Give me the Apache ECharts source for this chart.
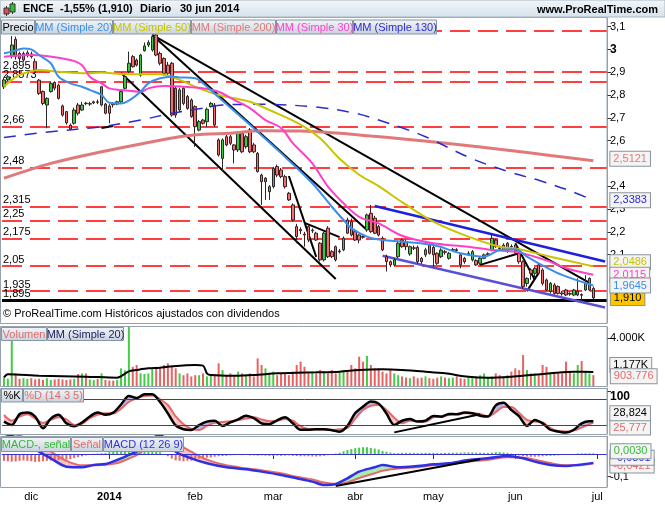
<!DOCTYPE html>
<html><head><meta charset="utf-8"><title>ENCE</title>
<script src="https://cdn.jsdelivr.net/npm/echarts@6.0.0/dist/echarts.min.js"></script>
<style>html,body{margin:0;padding:0;background:#fff;}#chart{width:665px;height:510px;}</style>
</head><body><div id="chart"></div><script>
// ---------------- DATA ----------------
const holidays = ['2013-12-25','2013-12-26','2014-01-01','2014-04-18','2014-04-21','2014-05-01'];
const monthNames = ['ene','feb','mar','abr','may','jun','jul','ago','sep','oct','nov','dic'];
const opens = [2.836,2.866,2.971,3.044,2.982,2.953,2.975,2.980,2.946,2.865,
2.815,2.756,2.815,2.855,2.843,2.752,2.727,2.668,2.676,2.756,
2.734,2.764,2.760,2.765,2.770,2.756,2.760,2.752,2.762,2.760,
2.770,2.829,2.902,2.968,2.953,2.887,2.994,3.019,2.997,3.063,
2.982,2.960,2.931,2.939,2.829,2.734,2.829,2.793,2.778,2.749,
2.646,2.690,2.683,2.749,2.756,2.603,2.522,2.617,2.617,2.581,
2.559,2.632,2.573,2.647,2.581,2.544,2.449,2.420,2.376,2.398,
2.486,2.471,2.442,2.369,2.318,2.223,2.210,2.190,2.223,2.205,
2.194,2.150,2.077,2.216,2.113,2.135,2.113,2.121,2.252,2.245,
2.201,2.186,2.179,2.208,2.281,2.260,2.223,2.172,2.091,2.069,
2.055,2.091,2.164,2.157,2.103,2.130,2.132,2.084,2.099,2.142,
2.132,2.106,2.091,2.113,2.084,2.120,2.122,2.099,2.084,2.105,
2.077,2.074,2.062,2.084,2.100,2.120,2.164,2.130,2.142,2.113,
2.136,2.142,2.106,2.069,1.974,2.033,2.018,2.055,2.033,1.989,
1.938,1.967,1.960,1.932,1.945,1.930,1.923,1.923,1.925,1.945,
1.945,1.952];
const closes = [2.866,2.880,3.019,2.968,2.960,2.982,2.985,2.968,2.910,2.807,
2.763,2.785,2.851,2.830,2.785,2.712,2.678,2.650,2.734,2.720,
2.756,2.762,2.762,2.770,2.768,2.836,2.720,2.720,2.757,2.770,
2.815,2.880,2.939,2.924,2.931,2.975,3.015,3.030,3.056,2.975,
2.939,2.895,2.895,2.712,2.712,2.822,2.763,2.741,2.705,2.661,
2.683,2.676,2.737,2.763,2.668,2.537,2.603,2.581,2.588,2.559,
2.632,2.551,2.617,2.551,2.551,2.464,2.420,2.435,2.398,2.478,
2.449,2.442,2.398,2.340,2.252,2.179,2.205,2.186,2.164,2.208,
2.164,2.077,2.194,2.091,2.091,2.077,2.116,2.172,2.194,2.186,
2.164,2.164,2.176,2.274,2.201,2.194,2.186,2.121,2.069,2.055,
2.077,2.150,2.135,2.135,2.135,2.128,2.069,2.069,2.121,2.106,
2.099,2.062,2.120,2.110,2.106,2.122,2.118,2.055,2.069,2.106,
2.113,2.055,2.084,2.099,2.104,2.172,2.135,2.127,2.120,2.150,
2.134,2.106,2.069,1.960,1.996,2.018,2.040,2.018,1.974,1.945,
1.974,1.930,1.930,1.928,1.923,1.927,1.945,1.940,1.922,1.974,
1.996,1.910];
const highs = [2.875,2.887,3.058,3.056,2.990,2.990,2.995,2.990,2.960,2.870,
2.820,2.790,2.860,2.860,2.850,2.758,2.730,2.675,2.745,2.765,
2.770,2.770,2.770,2.775,2.780,2.840,2.765,2.760,2.768,2.775,
2.820,2.885,2.990,2.975,2.960,2.980,3.030,3.040,3.070,3.080,
2.990,2.965,2.945,2.945,2.835,2.830,2.835,2.800,2.785,2.755,
2.690,2.695,2.745,2.770,2.765,2.610,2.610,2.625,2.625,2.585,
2.640,2.640,2.625,2.655,2.590,2.550,2.455,2.440,2.405,2.485,
2.495,2.480,2.450,2.375,2.325,2.235,2.220,2.200,2.230,2.215,
2.200,2.155,2.200,2.225,2.120,2.140,2.125,2.180,2.262,2.258,
2.210,2.190,2.185,2.280,2.318,2.270,2.230,2.180,2.100,2.075,
2.085,2.160,2.170,2.165,2.140,2.140,2.140,2.090,2.130,2.150,
2.140,2.110,2.128,2.120,2.112,2.130,2.128,2.105,2.090,2.115,
2.120,2.080,2.090,2.105,2.110,2.190,2.170,2.140,2.150,2.155,
2.145,2.150,2.110,2.075,2.000,2.040,2.045,2.060,2.040,1.995,
1.980,1.975,1.965,1.940,1.950,1.935,1.950,1.996,1.930,2.010,
2.000,1.960];
const lows = [2.826,2.860,2.960,2.955,2.930,2.945,2.965,2.960,2.895,2.800,
2.755,2.654,2.810,2.820,2.780,2.705,2.670,2.645,2.670,2.710,
2.730,2.755,2.752,2.760,2.760,2.750,2.715,2.676,2.745,2.755,
2.765,2.825,2.895,2.920,2.925,2.880,2.990,3.010,2.990,2.970,
2.930,2.885,2.885,2.705,2.700,2.725,2.755,2.735,2.700,2.573,
2.640,2.670,2.660,2.745,2.660,2.530,2.464,2.575,2.580,2.500,
2.550,2.545,2.565,2.545,2.545,2.460,2.318,2.340,2.340,2.390,
2.440,2.435,2.390,2.335,2.245,2.150,2.190,2.135,2.155,2.195,
2.160,2.070,2.070,2.085,2.085,2.070,2.105,2.115,2.190,2.180,
2.160,2.150,2.170,2.200,2.195,2.190,2.180,2.115,2.026,2.045,
2.050,2.085,2.130,2.120,2.095,2.120,2.060,2.060,2.090,2.100,
2.047,2.055,2.085,2.100,2.078,2.115,2.112,2.040,2.060,2.095,
2.070,2.050,2.055,2.080,2.095,2.115,2.130,2.120,2.115,2.108,
2.128,2.100,2.060,1.950,1.960,1.990,2.000,2.010,1.965,1.940,
1.930,1.925,1.925,1.920,1.918,1.920,1.918,1.918,1.900,1.940,
1.940,1.905];

const ma20Idx = [0,2,5,7,9,12,14,17,20,22,25,27,30,32,35,37,40,43,45,49,51,55,63,71,79,84,87,89,93,97,102,110,117,123,127,131,134,137,143,151];
const ma20Vals = [2.983,2.99,3.004,3.0,2.975,2.939,2.88,2.851,2.836,2.822,2.8,2.766,2.763,2.775,2.814,2.851,2.873,2.88,2.877,2.873,2.851,2.79,2.669,2.545,2.413,2.31,2.252,2.216,2.179,2.164,2.157,2.142,2.106,2.091,2.12,2.124,2.091,2.062,2.011,1.9645];
const ma50Idx = [0,2,4,9,14,21,25,30,35,40,45,50,55,63,68,76,81,86,91,96,102,110,119,127,132,140,151];
const ma50Vals = [2.836,2.866,2.888,2.909,2.902,2.895,2.898,2.892,2.891,2.891,2.866,2.829,2.80,2.77,2.734,2.67,2.61,2.52,2.45,2.40,2.33,2.245,2.179,2.135,2.124,2.091,2.0486];
const ma200Idx = [0,12,25,38,45,51,58,66,76,86,94,103,115,128,140,151];
const ma200Vals = [2.435,2.5,2.551,2.595,2.617,2.628,2.632,2.643,2.642,2.632,2.62,2.606,2.585,2.56,2.535,2.5121];
const ma30Idx = [0,7,17,20,22,25,27,30,35,37,41,48,51,55,59,63,67,71,74,79,83,87,91,96,102,110,119,125,131,136,140,144,151];
const ma30Vals = [2.968,2.975,2.953,2.93,2.88,2.851,2.829,2.822,2.814,2.829,2.839,2.834,2.829,2.814,2.778,2.742,2.69,2.655,2.589,2.5,2.398,2.325,2.266,2.237,2.183,2.15,2.135,2.12,2.113,2.091,2.069,2.04,2.0115];
const ma130Idx = [0,12,25,35,43,51,56,66,80,90,96,102,108,120,130,137,145,151];
const ma130Vals = [2.614,2.639,2.661,2.69,2.72,2.742,2.756,2.759,2.747,2.72,2.69,2.656,2.617,2.52,2.46,2.426,2.38,2.3383];

const levelValues = [3.077,2.895,2.8573,2.66,2.48,2.315,2.25,2.175,2.05,1.935];
const levelLabels = ['','2,895','2,8573','2,66','2,48','2,315','2,25','2,175','2,05','1,935'];
const supportValue = 1.895, supportLabel = '1,895';
const priceTicks = [2.1,2.2,2.3,2.4,2.6,2.7,2.8,2.9,3,3.1];
const blackTrendLines = [
  [[38,3.063],[150,1.976]], [[38,3.063],[93,2.208]], [[30,2.896],[85,1.993]],
  [[25,2.655],[28,2.664]], [[73,2.445],[80,2.09]], [[77,2.239],[86,2.177]],
  [[122,2.055],[132,2.106]], [[131,2.15],[136,1.99]], [[134,1.94],[137,2.02]]
];
const channelUpper = [[95,2.313],[154,2.070]];
const channelLower = [[97,2.095],[154,1.868]];

const volumes = [700,600,5000,1050,600,650,600,650,
550,600,500,650,500,550,600,550,
500,550,600,1000,1050,1050,550,500,
600,1050,500,450,450,500,1470,1300,
5000,1600,1750,1050,1000,1050,1470,1600,
1470,1750,1890,1600,1470,1050,900,1050,
800,900,900,1050,800,900,1000,1890,
1330,900,1050,800,1200,1050,900,1050,
800,2300,1750,1470,1050,1200,900,1050,
1050,900,1200,1750,2030,1600,1050,1200,
1050,1330,1200,1050,1330,1050,1200,1330,
1200,1750,1470,2440,2030,2500,1750,1470,
1470,1200,1050,1330,1050,900,800,700,
650,800,650,700,800,650,600,700,
800,700,650,700,800,650,600,700,
800,700,900,1050,700,800,1050,900,
800,900,1200,1470,1330,2580,1330,1050,
1050,900,1750,1600,1050,1000,1050,1050,
2030,1200,1050,1750,2080,1200,1050,903.776];
const volMaIdx = [0,1,9,21,29,32,34,37,40,42,49,51,52,53,59,64,70,75,80,86,91,97,102,108,113,119,124,130,135,140,146,151];
const volMaVals = [722,972,861,778,694,1222,1333,1472,1528,1611,1750,1700,1055,917,861,917,1055,1111,1139,1194,1333,1389,1333,1194,1055,778,694,778,917,1055,1194,1177];

const stochIdx = [0,2,4,6,8,10,12,14,16,18,20,22,24,26,28,30,32,34,36,38,40,42,44,46,48,50,52,54,56,58,60,62,64,66,68,70,72,74,76,78,80,82,84,86,88,90,92,94,96,98,100,102,104,106,108,110,112,114,116,118,120,122,124,126,128,130,132,134,136,138,140,142,144,146,148,150,151];
const stochK = [27.9,20,45,49,39.5,12.3,35,44,24,17,26,40,49,44,49,68,88,83,92,92,74,47.3,19,10,8.4,20,28,30,18,26,33,41.9,36,24,22,31,38,24,9,9,10,10,8,4.5,18,48,63,75,70,47,20,30,34,28,30,41,39.5,46,45,49,47.3,41.9,40,66,72,55,40,18,32,24,9,5,2.5,9,24,29,28.824];
const stochD = [43.4,30,39.5,45,35,25,32,38,33,20.1,23,36,44,47.3,47.3,58,74,82.4,88,89,80,66.8,40,22,11,8.4,18,25,27,29,31.8,35,38,33,29,30,34,30,17,10.5,10,9.5,8.5,10,13,35,55,65,67,55,37,24,30,29,28,38,40.5,43.4,46,47.3,47.3,46,40,50,62,62,48,32,28,26,13,6,5,7,14,22,25.777];
const stochTrend = [[100,2.9],[122,45]];

const macdIdx = [0,5,9,12,16,20,23,26,29,32,34,36,38,40,42,44,48,52,57,62,66,71,75,79,82,85,88,91,95,97,101,106,110,114,119,124,129,133,136,140,144,147,151];
const macdVals = [0.09,0.06,0.0104,-0.019,-0.0557,-0.0586,-0.048,-0.044,-0.0263,-0.0043,0.0104,0.04,0.07,0.08,0.06,0.0104,-0.019,-0.041,-0.0586,-0.0674,-0.0777,-0.0924,-0.107,-0.1217,-0.1364,-0.132,-0.107,-0.0777,-0.0586,-0.0483,-0.0586,-0.053,-0.0454,-0.041,-0.0263,-0.019,-0.0087,-0.019,-0.0336,-0.0483,-0.0527,-0.0483,-0.0391];
const signalVals = [0.1,0.075,0.04,0.01,-0.03,-0.05,-0.05,-0.047,-0.04,-0.02,-0.005,0.02,0.05,0.065,0.07,0.05,0.01,-0.025,-0.05,-0.063,-0.072,-0.085,-0.1,-0.112,-0.126,-0.132,-0.125,-0.106,-0.085,-0.074,-0.064,-0.058,-0.05,-0.045,-0.034,-0.025,-0.014,-0.015,-0.025,-0.04,-0.05,-0.05,-0.0421];
const histVals = [-0.03,-0.032,-0.034,-0.033,-0.03,-0.028,-0.03,-0.032,
-0.035,-0.034,-0.032,-0.03,-0.029,-0.028,-0.027,-0.026,
-0.025,-0.022,-0.018,-0.014,-0.01,-0.006,-0.003,0.001,
0.002,0.003,0.004,0.008,0.012,0.014,0.016,0.018,
0.016,0.015,0.015,0.016,0.018,0.017,0.014,0.012,
0.008,-0.002,-0.01,-0.02,-0.028,-0.03,-0.032,-0.03,
-0.029,-0.025,-0.02,-0.018,-0.016,-0.015,-0.012,-0.01,
-0.009,-0.008,-0.006,-0.005,-0.004,-0.005,-0.004,-0.006,
-0.006,-0.007,-0.006,-0.007,-0.008,-0.008,-0.007,-0.008,
-0.007,-0.006,-0.008,-0.009,-0.01,-0.01,-0.01,-0.011,
-0.011,-0.01,-0.008,-0.005,-0.002,0.002,0.006,0.012,
0.018,0.022,0.026,0.028,0.03,0.03,0.027,0.024,
0.02,0.014,0.01,0.006,0.004,0.004,0.005,0.005,
0.005,0.005,0.004,0.005,0.005,0.005,0.005,0.004,
0.004,0.005,0.005,0.006,0.006,0.006,0.007,0.007,
0.007,0.006,0.006,0.005,0.005,0.006,0.008,0.008,
0.007,0.005,0.002,-0.002,-0.006,-0.009,-0.011,-0.012,
-0.012,-0.011,-0.01,-0.009,-0.008,-0.007,-0.006,-0.004,
-0.002,-0.001,0.0,0.002,0.003,0.003,0.003,0.003];
const macdTrend = [[85,-0.1408],[122,-0.0234]];

const titleParts = ['ENCE','-1,55% (1,910)','Diario','30 jun 2014'];
const siteText = 'www.ProRealTime.com';
const copyrightText = '\u00a9 ProRealTime.com Hist\u00f3ricos ajustados con dividendos';
const priceLegend = ['Precio','MM (Simple 20)','MM (Simple 50)','MM (Simple 200)','MM (Simple 30)','MM (Simple 130)'];
const volLegend = ['Volumen','MM (Simple 20)'];
const stochLegend = ['%K','%D (14 3 5)'];
const macdLegend = ['MACD-, se\u00f1al','Se\u00f1al','MACD (12 26 9)'];

// ---------------- BUILD ----------------
const categories = [];
(function(){ const d = new Date(Date.UTC(2013,10,21));
  while (categories.length < 155) { const dow = d.getUTCDay(); const s = d.toISOString().slice(0,10);
    if (dow !== 0 && dow !== 6 && holidays.indexOf(s) < 0) categories.push(s);
    d.setUTCDate(d.getUTCDate()+1); } })();
const isMonthStart = (i) => i > 0 && categories[i].slice(5,7) !== categories[i-1].slice(5,7);
const FONT = '"Liberation Sans", Arial, sans-serif';
const fmtC = (v,d) => v.toFixed(d).replace('.', ',');
const pairs = (idx, vals) => idx.map((x,k) => [x, vals[k]]);

const C = {green:'#3cc83c', red:'#ec7070', ma20:'#3b8eea', ma50:'#c8c400', ma200:'#e07a7a', ma30:'#ff3fc8', ma130:'#2b2bcc',
  salmon:'#e46a6a', blueLine:'#3434c8', frame:'#95a2ae'};

const PTOP = 18, PBOT = 323;
const pxPerUnit = 228.1, pOffset = 733.65;
const PMAX = (pOffset - PTOP)/pxPerUnit, PMIN = (pOffset - PBOT)/pxPerUnit;

const grids = [
  {left:2, width:605, top:PTOP, height:PBOT-PTOP},
  {left:2, width:605, top:327, height:59},
  {left:2, width:605, top:388, height:46},
  {left:2, width:605, top:436, height:51}
];

function xAxisFor(k){
  const show = k === 3;
  return {type:'category', gridIndex:k, data:categories, boundaryGap:true,
    axisLine:{show, lineStyle:{color:C.frame}},
    axisTick:{show, interval:(i)=>isMonthStart(i), alignWithLabel:true, length:5, lineStyle:{color:'#333'}},
    axisLabel:{show, interval:(i)=>isMonthStart(i), color:'#000', fontSize:11, fontFamily:FONT, margin:4,
      formatter:(v)=>{ const m = +v.slice(5,7); return m === 1 ? '{b|'+v.slice(0,4)+'}' : monthNames[m-1]; },
      rich:{b:{fontWeight:'bold', fontSize:11, fontFamily:FONT, color:'#000'}}},
    splitLine:{show:false}};
}
function yAxisFor(k, min, max, ticks, fmt, vAlign){
  const lab = {customValues:ticks, formatter:fmt, color:'#000', fontSize:11, fontFamily:FONT, margin:3,
      rich:{b:{fontWeight:'bold', fontSize:12, fontFamily:FONT, color:'#000'}}};
  if (vAlign) lab.verticalAlign = vAlign;
  return {type:'value', gridIndex:k, position:'right', min, max, scale:true,
    axisLine:{show:true, lineStyle:{color:C.frame}},
    axisTick:{show:true, length:4, customValues:ticks, lineStyle:{color:'#333'}},
    axisLabel:lab, splitLine:{show:false}};
}
function endBox(color, dy, fmt, bg){
  return {show:true, distance:17, offset:[0,dy], color, fontSize:11, fontFamily:FONT,
    backgroundColor:bg || '#f4f4f4', borderColor:'#8a949e', borderWidth:1, padding:[2,3,1,3],
    formatter:(p)=>fmt(p.value[1])};
}
function maSeries(idx, vals, color, width, type, dy, z){
  return {type:'line', xAxisIndex:0, yAxisIndex:0, data:pairs(idx, vals), smooth:0.35, symbol:'none', silent:true,
    lineStyle:{color, width, type}, z, endLabel:endBox(color, dy, (v)=>fmtC(v,4))};
}
function fillSeries(idx, a, b, upColor, downColor, xi, yi){
  const data = [];
  for (let k = 0; k < idx.length-1; k++) data.push([idx[k], a[k], b[k], idx[k+1], a[k+1], b[k+1]]);
  return {type:'custom', xAxisIndex:xi, yAxisIndex:yi, silent:true, clip:true, z:1, data,
    encode:{x:[0,3], y:[1,2,4,5]},
    renderItem:(params, api)=>{
      const pa0 = api.coord([api.value(0), api.value(1)]), pb0 = api.coord([api.value(0), api.value(2)]);
      const pa1 = api.coord([api.value(3), api.value(4)]), pb1 = api.coord([api.value(3), api.value(5)]);
      const d0 = api.value(1)-api.value(2), d1 = api.value(4)-api.value(5);
      const ch = [];
      const poly = (pts, col) => ch.push({type:'polygon', shape:{points:pts}, style:{fill:col}});
      if (d0*d1 >= 0) poly([pa0,pa1,pb1,pb0], (d0+d1) >= 0 ? upColor : downColor);
      else { const t = d0/(d0-d1); const pm = [pa0[0]+t*(pa1[0]-pa0[0]), pa0[1]+t*(pa1[1]-pa0[1])];
        poly([pa0,pm,pb0], d0 > 0 ? upColor : downColor); poly([pm,pa1,pb1], d1 > 0 ? upColor : downColor); }
      return {type:'group', children:ch};
    }};
}

const candleData = opens.map((o,i)=>[o, closes[i], lows[i], highs[i]]);
const lastI = closes.length-1;

const markLineData = [];
levelValues.forEach((v,k)=>markLineData.push({yAxis:v, lineStyle:{color:'#ff0000', width:1.5, type:[20,8]},
  label:{show:levelLabels[k] !== '', position:'insideStartTop', formatter:levelLabels[k], color:'#000', fontSize:11, fontFamily:FONT, distance:[1,1]}}));
markLineData.push({yAxis:supportValue, lineStyle:{color:'#000', width:3, type:'solid'},
  label:{show:true, position:'insideStartTop', formatter:supportLabel, color:'#000', fontSize:11, fontFamily:FONT, distance:[1,1]}});
blackTrendLines.forEach(l=>markLineData.push([{coord:l[0], lineStyle:{color:'#000', width:2, type:'solid'}, label:{show:false}}, {coord:l[1]}]));
markLineData.push([{coord:channelUpper[0], lineStyle:{color:'#1f1fe0', width:2.5, type:'solid'}, label:{show:false}}, {coord:channelUpper[1]}]);
markLineData.push([{coord:channelLower[0], lineStyle:{color:'#5a50d6', width:2.5, type:'solid'}, label:{show:false}}, {coord:channelLower[1]}]);

const series = [
  {type:'candlestick', xAxisIndex:0, yAxisIndex:0, data:candleData, barWidth:3, silent:true, z:3,
   itemStyle:{color:C.green, color0:C.red, borderColor:'#2a2a2a', borderColor0:'#3a2020', borderWidth:1},
   markLine:{symbol:['none','none'], silent:true, animation:false, z:2, data:markLineData},
   markPoint:{symbol:'rect', symbolSize:1, itemStyle:{color:'rgba(0,0,0,0)'}, silent:true,
     data:[{coord:[lastI, closes[lastI]], label:{show:true, position:'right', distance:17, formatter:fmtC(closes[lastI],3),
       color:'#000', fontSize:11, fontFamily:FONT, backgroundColor:'#ffc400', borderColor:'#8a949e', borderWidth:1, padding:[2,3,1,3]}}]}},
  maSeries(ma200Idx, ma200Vals, C.ma200, 3, 'solid', -2, 4),
  maSeries(ma130Idx, ma130Vals, C.ma130, 1.5, [12,9], 0, 4),
  maSeries(ma50Idx, ma50Vals, C.ma50, 2, 'solid', -4, 5),
  maSeries(ma30Idx, ma30Vals, C.ma30, 2, 'solid', 0, 5),
  maSeries(ma20Idx, ma20Vals, C.ma20, 2, 'solid', 0, 6),
  {type:'bar', xAxisIndex:1, yAxisIndex:1, barWidth:2, silent:true,
   data:volumes.map((v,i)=>({value:v, itemStyle:{color: closes[i] >= opens[i] ? '#44cc44' : '#e86262'}})),
   markPoint:{symbol:'rect', symbolSize:1, itemStyle:{color:'rgba(0,0,0,0)'}, silent:true,
     data:[{coord:[lastI, volumes[lastI]], label:{show:true, position:'right', distance:17, offset:[0,1], formatter:volumes[lastI].toFixed(3),
       color:C.salmon, fontSize:11, fontFamily:FONT, backgroundColor:'#f4f4f4', borderColor:'#8a949e', borderWidth:1, padding:[2,3,1,3]}}]}},
  {type:'line', xAxisIndex:1, yAxisIndex:1, data:pairs(volMaIdx, volMaVals), smooth:0.3, symbol:'none', silent:true,
   lineStyle:{color:'#000', width:2}, endLabel:endBox('#000', -7, (v)=>(v/1000).toFixed(3)+'K')},
  fillSeries(stochIdx, stochK, stochD, '#b6b6ee', '#f4c2c2', 2, 2),
  {type:'line', xAxisIndex:2, yAxisIndex:2, data:pairs(stochIdx, stochD), smooth:0.3, symbol:'none', silent:true, z:3,
   lineStyle:{color:C.salmon, width:2}, endLabel:endBox(C.salmon, 5, (v)=>fmtC(v,3))},
  {type:'line', xAxisIndex:2, yAxisIndex:2, data:pairs(stochIdx, stochK), smooth:0.3, symbol:'none', silent:true, z:4,
   lineStyle:{color:'#000', width:2.5}, endLabel:endBox('#000', -8, (v)=>fmtC(v,3)),
   markLine:{symbol:['none','none'], silent:true, animation:false, data:[
     {yAxis:80, lineStyle:{color:C.blueLine, width:1, type:'solid'}, label:{show:false}},
     {yAxis:20, lineStyle:{color:C.blueLine, width:1, type:'solid'}, label:{show:false}},
     [{coord:stochTrend[0], lineStyle:{color:'#000', width:2, type:'solid'}, label:{show:false}}, {coord:stochTrend[1]}]]}},
  {type:'bar', xAxisIndex:3, yAxisIndex:3, barWidth:2, silent:true,
   data:histVals.map(v=>({value:v, itemStyle:{color: v >= 0 ? '#44cc44' : '#e86262'}})),
   markPoint:{symbol:'rect', symbolSize:1, itemStyle:{color:'rgba(0,0,0,0)'}, silent:true,
     data:[{coord:[lastI, histVals[lastI]], label:{show:true, position:'right', distance:17, offset:[0,-2], formatter:fmtC(histVals[lastI],4),
       color:'#33bb33', fontSize:11, fontFamily:FONT, backgroundColor:'#f4f4f4', borderColor:'#8a949e', borderWidth:1, padding:[2,3,1,3]}}]}},
  fillSeries(macdIdx, macdVals, signalVals, '#aaeaaa', '#f4c2c2', 3, 3),
  {type:'line', xAxisIndex:3, yAxisIndex:3, data:pairs(macdIdx, signalVals), smooth:0.3, symbol:'none', silent:true, z:3,
   lineStyle:{color:C.salmon, width:2}, endLabel:endBox(C.salmon, 2, (v)=>fmtC(v,4))},
  {type:'line', xAxisIndex:3, yAxisIndex:3, data:pairs(macdIdx, macdVals), smooth:0.3, symbol:'none', silent:true, z:4,
   lineStyle:{color:'#2f2fe6', width:2.5}, endLabel:endBox('#2f2fe6', -5, (v)=>fmtC(v,4)),
   markLine:{symbol:['none','none'], silent:true, animation:false, data:[
     {yAxis:0, lineStyle:{color:C.blueLine, width:1, type:'solid'}, label:{show:false}},
     [{coord:macdTrend[0], lineStyle:{color:'#000', width:2, type:'solid'}, label:{show:false}}, {coord:macdTrend[1]}]]}}
];

const lg = () => new echarts.graphic.LinearGradient(0,0,0,1,[{offset:0,color:'#f3f6f9'},{offset:1,color:'#c7d2dc'}]);
function legendRow(texts, colors, edges, y, h){
  const els = [];
  texts.forEach((t,k)=>{ const x0 = edges[k], x1 = edges[k+1];
    els.push({type:'rect', z:100, shape:{x:x0+0.5, y:y+0.5, width:x1-x0-1, height:h}, style:{fill:lg(), stroke:'#8796a5', lineWidth:1}});
    els.push({type:'text', z:101, x:(x0+x1)/2, y:y+h/2+1, style:{text:t, fill:colors[k], font:'11px '+FONT,
      textAlign:'center', textVerticalAlign:'middle', align:'center', verticalAlign:'middle'}}); });
  return els;
}
const frame = (y, h) => ({type:'rect', z:90, shape:{x:0.5, y:y+0.5, width:606.5, height:h}, style:{fill:'none', stroke:C.frame, lineWidth:1}});
const graphic = [
  {type:'rect', z:95, shape:{x:0,y:0,width:665,height:17}, style:{fill:new echarts.graphic.LinearGradient(0,0,0,1,[{offset:0,color:'#f2f6fa'},{offset:1,color:'#d6e2ec'}]), stroke:'#a9b6c2', lineWidth:1}},
  {type:'line', z:96, shape:{x1:6.5,y1:6,x2:6.5,y2:16}, style:{stroke:'#333', lineWidth:1}},
  {type:'rect', z:97, shape:{x:4,y:8,width:5,height:6}, style:{fill:'#e05050', stroke:'#333', lineWidth:1}},
  {type:'line', z:96, shape:{x1:12.5,y1:2,x2:12.5,y2:14}, style:{stroke:'#333', lineWidth:1}},
  {type:'rect', z:97, shape:{x:10,y:4,width:5,height:8}, style:{fill:'#30c030', stroke:'#333', lineWidth:1}},
  {type:'text', z:97, x:23, y:9, style:{text:titleParts[0], fill:'#000', font:'bold 11px '+FONT, textVerticalAlign:'middle', verticalAlign:'middle'}},
  {type:'text', z:97, x:60, y:9, style:{text:titleParts[1], fill:'#000', font:'bold 11px '+FONT, textVerticalAlign:'middle', verticalAlign:'middle'}},
  {type:'text', z:97, x:140, y:9, style:{text:titleParts[2], fill:'#000', font:'bold 11px '+FONT, textVerticalAlign:'middle', verticalAlign:'middle'}},
  {type:'text', z:97, x:180, y:9, style:{text:titleParts[3], fill:'#000', font:'bold 11px '+FONT, textVerticalAlign:'middle', verticalAlign:'middle'}},
  {type:'text', z:97, x:658, y:10, style:{text:siteText, fill:'#000', font:'bold 11px '+FONT, textAlign:'right', align:'right', textVerticalAlign:'middle', verticalAlign:'middle'}},
  frame(17, 306), frame(326, 60), frame(388, 46), frame(436, 51),
  {type:'rect', z:92, shape:{x:1,y:306,width:300,height:16}, style:{fill:'#fff'}},
  {type:'text', z:93, x:3, y:314, style:{text:copyrightText, fill:'#000', font:'11px '+FONT, textVerticalAlign:'middle', verticalAlign:'middle'}},
  ...legendRow(priceLegend, ['#000', C.ma20, C.ma50, C.ma200, C.ma30, C.ma130], [1,35,113,191,276,353,437], 19.5, 14),
  ...legendRow(volLegend, [C.salmon, '#1d1d5a'], [1,47,124], 327, 13),
  ...legendRow(stochLegend, ['#000', C.salmon], [1,23,84], 388.5, 13),
  ...legendRow(macdLegend, ['#33b833', C.salmon, '#2f2fe6'], [1,71,103,184], 437, 14)
];

const option = {
  animation:false, backgroundColor:'#fff', textStyle:{fontFamily:FONT},
  grid:grids,
  xAxis:[0,1,2,3].map(xAxisFor),
  yAxis:[
    yAxisFor(0, PMIN, PMAX, priceTicks, (v)=> Math.abs(v-3) < 1e-9 ? '{b|3}' : fmtC(Math.round(v*10)/10, 1)),
    yAxisFor(1, 0, 4917, [4000], (v)=>(v/1000).toFixed(3)+'K'),
    yAxisFor(2, -0.93, 106.5, [100], (v)=>'{b|'+v+'}', 'top'),
    yAxisFor(3, -0.1454, 0.0793, [-0.1], (v)=>fmtC(v,1))
  ],
  series, graphic
};
const chart = echarts.init(document.getElementById('chart'), null, {renderer:'canvas'});
chart.setOption(option);
</script></body></html>
